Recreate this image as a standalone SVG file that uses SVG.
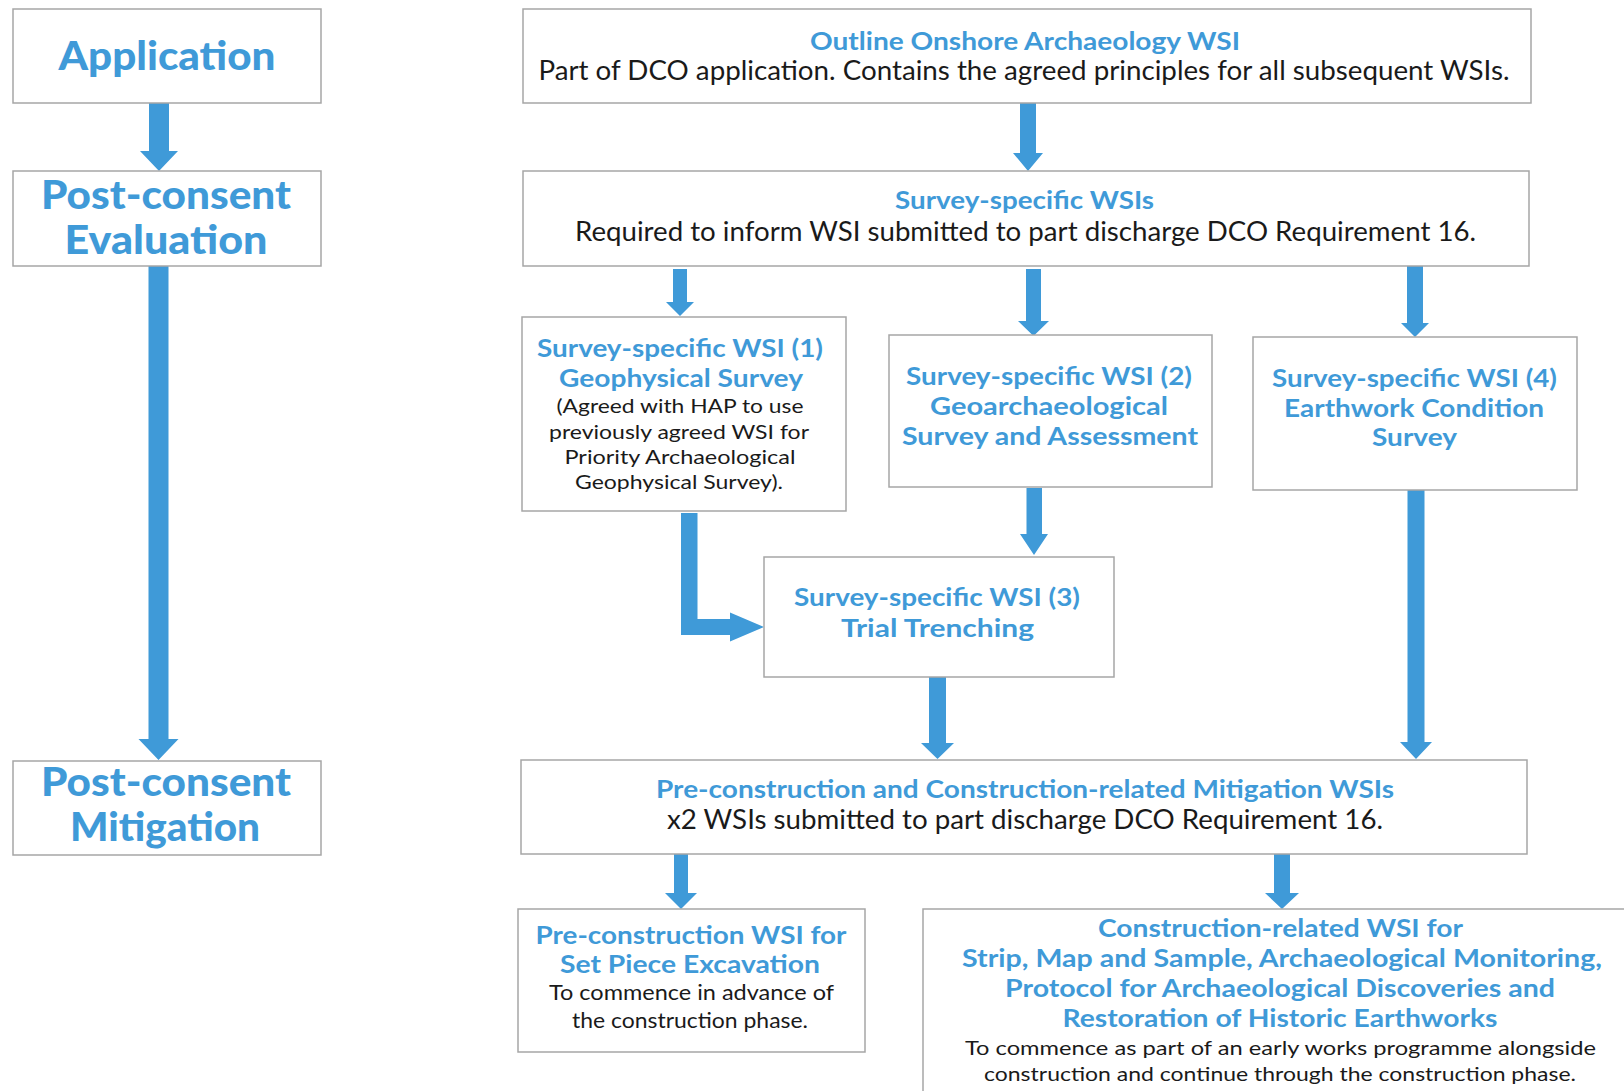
<svg xmlns="http://www.w3.org/2000/svg" width="1624" height="1091" viewBox="0 0 1624 1091">
<style>
  .box{fill:#fff;stroke:#a6a6a6;stroke-width:1.5}
  .arr{fill:#3f9ad8}
  text{font-family:Lato,"Open Sans","Liberation Sans",sans-serif;text-anchor:middle}
  .big{fill:#3f9ad8;font-size:39px;font-weight:900}
  .hd{fill:#3f9ad8;font-size:25px;font-weight:700}
  .body{fill:#1a1a1a;font-size:26px;font-weight:400}
  .sm{fill:#1a1a1a;font-size:20px;font-weight:400}
  .sm2{fill:#1a1a1a;font-size:21px;font-weight:400}
</style>
<rect width="1624" height="1091" fill="#fff"/>

<g id="connectors">
  <polygon class="arr" points="149,103 169,103 169,151 178,151 159,171 140,151 149,151"/>
  <polygon class="arr" points="148.5,266 168.5,266 168.5,739 178.5,739 158.5,760 138.5,739 148.5,739"/>
  <polygon class="arr" points="1020,103 1036,103 1036,153 1043,153 1028,171 1013,153 1020,153"/>
  <polygon class="arr" points="673,269 687,269 687,302 694,302 680,316 666,302 673,302"/>
  <polygon class="arr" points="1026,269 1041,269 1041,321 1049,321 1033.5,336 1018,321 1026,321"/>
  <polygon class="arr" points="1407,265 1423,265 1423,323 1429,323 1415,337 1401,323 1407,323"/>
  <polygon class="arr" points="1026.5,488 1042,488 1042,534 1048,534 1034,555 1020,534 1026.5,534"/>
  <polygon class="arr" points="681,513 697.5,513 697.5,619 730,619 730,612.5 764,627 730,641.5 730,635 681,635"/>
  <polygon class="arr" points="929,677 946,677 946,743 954,743 937.5,759 921,743 929,743"/>
  <polygon class="arr" points="1407.5,490 1424.5,490 1424.5,742 1432,742 1416,759 1400,742 1407.5,742"/>
  <polygon class="arr" points="674,854 688,854 688,893 697,893 681,909 665,893 674,893"/>
  <polygon class="arr" points="1274,854 1290,854 1290,893 1299,893 1282,909 1265,893 1274,893"/>
</g>

<g id="application">
  <rect class="box" x="13" y="9" width="308" height="94"/>
  <text class="big" x="167" y="70" textLength="217" lengthAdjust="spacingAndGlyphs">Application</text>
</g>
<g id="post-consent-evaluation">
  <rect class="box" x="13" y="171" width="308" height="95"/>
  <text class="big" x="166" y="209" textLength="250" lengthAdjust="spacingAndGlyphs">Post-consent</text>
  <text class="big" x="166" y="254" textLength="203" lengthAdjust="spacingAndGlyphs">Evaluation</text>
</g>
<g id="post-consent-mitigation">
  <rect class="box" x="13" y="761" width="308" height="94"/>
  <text class="big" x="166" y="796" textLength="250" lengthAdjust="spacingAndGlyphs">Post-consent</text>
  <text class="big" x="165" y="841" textLength="190" lengthAdjust="spacingAndGlyphs">Mitigation</text>
</g>

<g id="outline-wsi">
  <rect class="box" x="523" y="9" width="1008" height="94"/>
  <text class="hd" x="1025" y="50" textLength="430" lengthAdjust="spacingAndGlyphs">Outline Onshore Archaeology WSI</text>
  <text class="body" x="1024" y="80" textLength="971" lengthAdjust="spacingAndGlyphs">Part of DCO application. Contains the agreed principles for all subsequent WSIs.</text>
</g>
<g id="survey-specific-wsis">
  <rect class="box" x="523" y="171" width="1006" height="95"/>
  <text class="hd" x="1024.5" y="209" textLength="259" lengthAdjust="spacingAndGlyphs">Survey-specific WSIs</text>
  <text class="body" x="1025.5" y="241" textLength="901" lengthAdjust="spacingAndGlyphs">Required to inform WSI submitted to part discharge DCO Requirement 16.</text>
</g>
<g id="wsi-1">
  <rect class="box" x="522" y="317" width="324" height="194"/>
  <text class="hd" x="680" y="357" textLength="286" lengthAdjust="spacingAndGlyphs">Survey-specific WSI (1)</text>
  <text class="hd" x="681" y="387" textLength="244" lengthAdjust="spacingAndGlyphs">Geophysical Survey</text>
  <text class="sm" x="680" y="413" textLength="247" lengthAdjust="spacingAndGlyphs">(Agreed with HAP to use</text>
  <text class="sm" x="679" y="439" textLength="260" lengthAdjust="spacingAndGlyphs">previously agreed WSI for</text>
  <text class="sm" x="680" y="464" textLength="231" lengthAdjust="spacingAndGlyphs">Priority Archaeological</text>
  <text class="sm" x="679" y="489" textLength="208" lengthAdjust="spacingAndGlyphs">Geophysical Survey).</text>
</g>
<g id="wsi-2">
  <rect class="box" x="889" y="335" width="323" height="152"/>
  <text class="hd" x="1049" y="385" textLength="286" lengthAdjust="spacingAndGlyphs">Survey-specific WSI (2)</text>
  <text class="hd" x="1049" y="415" textLength="238" lengthAdjust="spacingAndGlyphs">Geoarchaeological</text>
  <text class="hd" x="1050" y="445" textLength="296" lengthAdjust="spacingAndGlyphs">Survey and Assessment</text>
</g>
<g id="wsi-4">
  <rect class="box" x="1253" y="337" width="324" height="153"/>
  <text class="hd" x="1414.5" y="387" textLength="285" lengthAdjust="spacingAndGlyphs">Survey-specific WSI (4)</text>
  <text class="hd" x="1414" y="417" textLength="260" lengthAdjust="spacingAndGlyphs">Earthwork Condition</text>
  <text class="hd" x="1414.5" y="446" textLength="85" lengthAdjust="spacingAndGlyphs">Survey</text>
</g>
<g id="wsi-3">
  <rect class="box" x="764" y="557" width="350" height="120"/>
  <text class="hd" x="937" y="606" textLength="286" lengthAdjust="spacingAndGlyphs">Survey-specific WSI (3)</text>
  <text class="hd" x="937.5" y="637" textLength="193" lengthAdjust="spacingAndGlyphs">Trial Trenching</text>
</g>
<g id="mitigation-wsis">
  <rect class="box" x="521" y="760" width="1006" height="94"/>
  <text class="hd" x="1025" y="798" textLength="738" lengthAdjust="spacingAndGlyphs">Pre-construction and Construction-related Mitigation WSIs</text>
  <text class="body" x="1025" y="829" textLength="716" lengthAdjust="spacingAndGlyphs">x2 WSIs submitted to part discharge DCO Requirement 16.</text>
</g>
<g id="pre-construction-wsi">
  <rect class="box" x="518" y="909" width="347" height="143"/>
  <text class="hd" x="691" y="944" textLength="311" lengthAdjust="spacingAndGlyphs">Pre-construction WSI for</text>
  <text class="hd" x="690" y="973" textLength="260" lengthAdjust="spacingAndGlyphs">Set Piece Excavation</text>
  <text class="sm2" x="691.5" y="1000" textLength="285" lengthAdjust="spacingAndGlyphs">To commence in advance of</text>
  <text class="sm2" x="690" y="1028" textLength="236" lengthAdjust="spacingAndGlyphs">the construction phase.</text>
</g>
<g id="construction-related-wsi">
  <rect class="box" x="923" y="909" width="720" height="200"/>
  <text class="hd" x="1280.5" y="937" textLength="365" lengthAdjust="spacingAndGlyphs">Construction-related WSI for</text>
  <text class="hd" x="1282" y="967" textLength="640" lengthAdjust="spacingAndGlyphs">Strip, Map and Sample,  Archaeological Monitoring,</text>
  <text class="hd" x="1280" y="997" textLength="550" lengthAdjust="spacingAndGlyphs">Protocol for Archaeological Discoveries and</text>
  <text class="hd" x="1280" y="1027" textLength="435" lengthAdjust="spacingAndGlyphs">Restoration of Historic Earthworks</text>
  <text class="sm" x="1280.5" y="1055" textLength="631" lengthAdjust="spacingAndGlyphs">To commence as part of an early works programme alongside</text>
  <text class="sm" x="1280" y="1081" textLength="592" lengthAdjust="spacingAndGlyphs">construction and continue through the construction phase.</text>
</g>
</svg>
